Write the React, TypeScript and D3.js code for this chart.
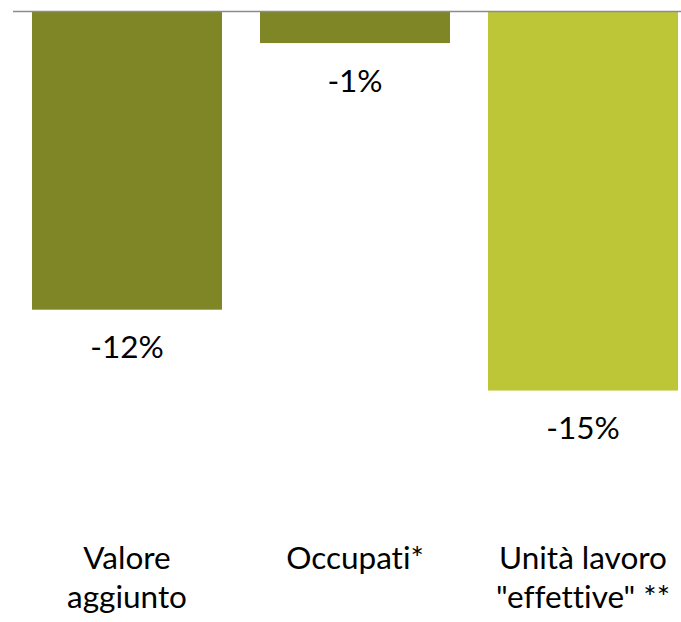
import React from "react";
import * as d3 from "d3";

const categories = ["Valore aggiunto", "Occupati*", "Unità lavoro \"effettive\" **"];
const categoryLines = [["Valore", "aggiunto"], ["Occupati*"], ["Unità lavoro", "\"effettive\" **"]];
const values = [-11.8, -1.25, -15.0];
const valueLabels = ["-12%", "-1%", "-15%"];
const barColors = ["#7F8626", "#7F8626", "#BCC637"];

const W = 681;
const H = 622;

export default function App() {
  const x = d3.scaleBand<string>().domain(categories).range([13, 697]).paddingInner(38 / 228).paddingOuter(19 / 228);
  const y = d3.scaleLinear().domain([0, -16]).range([11.5, 11.5 + 16 * 25.27]);
  const font = "Lato, 'Open Sans', sans-serif";
  const textStyle = { fontVariantLigatures: "none" as const };
  return (
    <svg width={W} height={H} style={{ position: "absolute", left: 0, top: 0 }}>
      <rect width={W} height={H} fill="#fff" />
      {categories.map((c, i) => (
        <rect key={c} x={x(c)} y={y(0)} width={x.bandwidth()} height={y(values[i]) - y(0)} fill={barColors[i]} />
      ))}
      <line x1={13} x2={W} y1={y(0)} y2={y(0)} stroke="#8C8C8C" strokeWidth={1.5} />
      {categories.map((c, i) => (
        <text key={"v" + c} x={x(c)! + x.bandwidth() / 2} y={y(values[i]) + 48.5} textAnchor="middle" fontFamily={font} fontSize={31.5} fill="#000" style={textStyle}>
          {valueLabels[i]}
        </text>
      ))}
      {categories.map((c, i) => (
        <text key={"c" + c} x={x(c)! + x.bandwidth() / 2} y={569} textAnchor="middle" fontFamily={font} fontSize={31.5} fill="#000" style={textStyle}>
          {categoryLines[i].map((l, j) => (
            <tspan key={j} x={x(c)! + x.bandwidth() / 2} dy={j === 0 ? 0 : 39}>{l}</tspan>
          ))}
        </text>
      ))}
    </svg>
  );
}
